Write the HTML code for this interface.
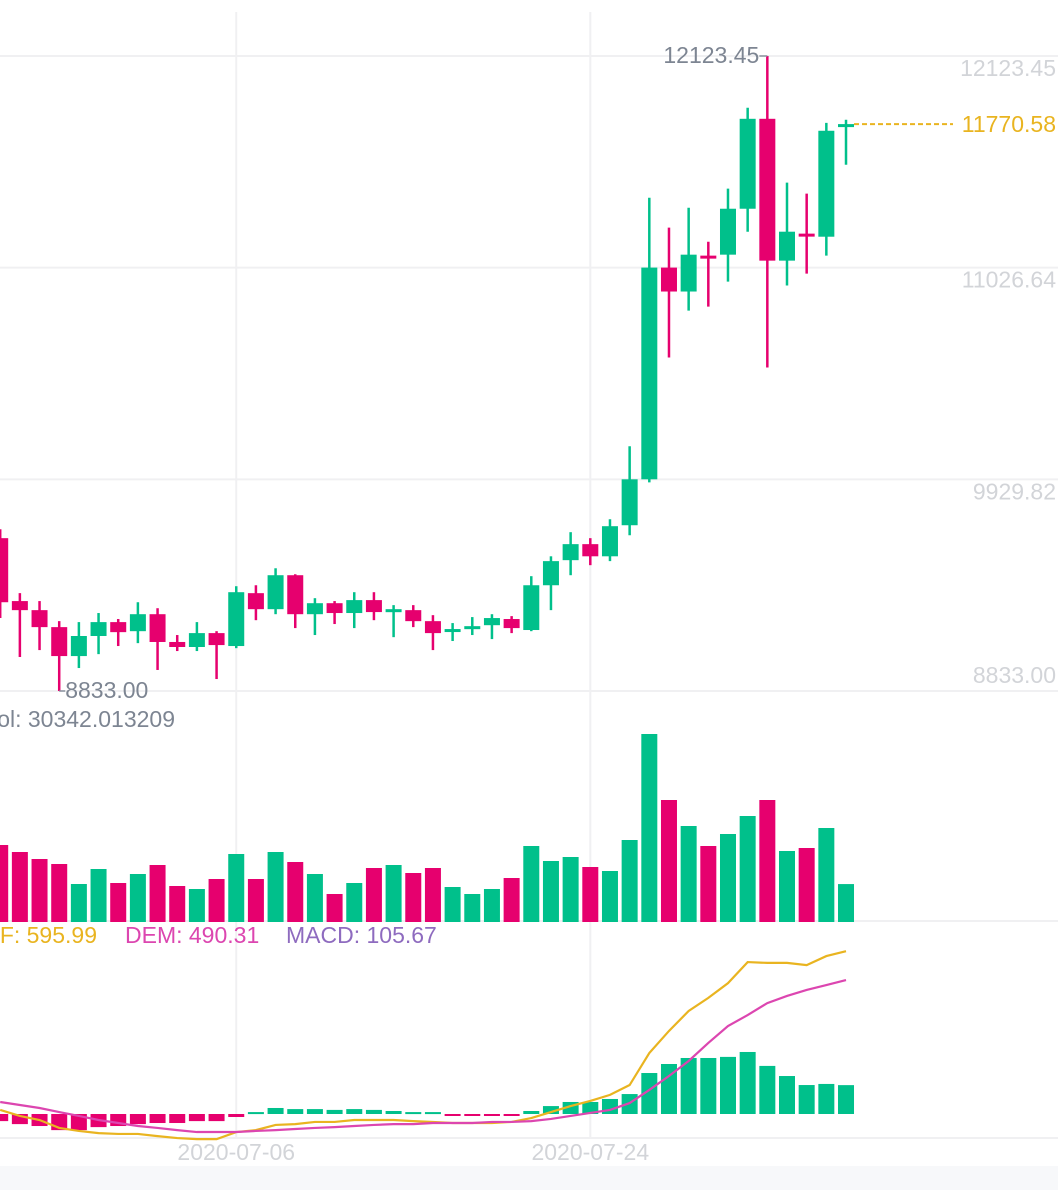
<!DOCTYPE html>
<html><head><meta charset="utf-8"><style>
html,body{margin:0;padding:0;background:#fff;width:1058px;height:1190px;overflow:hidden}
svg{display:block;font-family:"Liberation Sans",Roboto,sans-serif}
</style></head><body>
<svg id="chart" width="1058" height="1190" viewBox="0 0 1058 1190" xmlns="http://www.w3.org/2000/svg">
<rect x="0" y="1166" width="1058" height="24" fill="#f7f8fa"/>
<g id="grid"></g>
<g id="vol"></g>
<g id="macdh"></g>
<g id="lines"></g>
<g id="candles"></g>
<g id="labels"></g>
</svg>
<script>
const opens=[9625,9299,9252,9164,9014,9118,9190,9143,9231,9087,9061,9133,9066,9340,9257,9433,9231,9288,9237,9304,9247,9252,9195,9143,9159,9174,9206,9149,9381,9511,9594,9531,9692,9930,11027,10903,11089,11094,11332,11798,11063,11203,11187,11761];
const highs=[9671,9340,9299,9195,9190,9237,9206,9293,9262,9123,9190,9143,9376,9381,9469,9438,9314,9299,9345,9345,9278,9278,9226,9185,9216,9231,9221,9428,9531,9656,9625,9723,10101,11389,11234,11337,11161,11436,11855,12123.45,11467,11410,11777,11793];
const lows=[9211,9009,9045,8833,8952,9024,9066,9081,8942,9040,9040,8895,9055,9200,9231,9159,9123,9180,9159,9200,9112,9164,9045,9092,9123,9102,9133,9143,9252,9433,9485,9506,9640,9914,10561,10804,10825,10954,11213,10509,10934,10996,11089,11560];
const closes=[9293,9252,9164,9014,9118,9190,9138,9231,9087,9061,9133,9071,9345,9257,9433,9231,9288,9237,9304,9242,9257,9195,9133,9154,9169,9211,9159,9381,9506,9594,9531,9687,9930,11027,10903,11094,11084,11332,11798,11063,11213,11192,11736,11770.58];
const volumes=[61600,56000,50400,46400,30400,42400,31200,38400,45600,28800,26400,34400,54400,34400,56000,48000,38400,22400,31200,43200,45600,39200,43200,28000,22400,26400,35200,60800,48800,52000,44000,40800,65600,150400,97600,76800,60800,70400,84800,97600,56800,59200,75200,30342.013209];
const dif=[15,-7,-22,-51,-62,-70,-73,-73,-81,-88,-92,-92,-66,-59,-40,-37,-29,-29,-22,-22,-22,-26,-29,-33,-33,-33,-29,-15,7,29,48,70,106,223,304,377,425,479,556,553,553,545,578,595.99];
const dem=[44,33,22,7,-7,-22,-33,-44,-51,-59,-66,-66,-66,-62,-59,-55,-51,-48,-44,-40,-37,-37,-33,-33,-33,-29,-29,-26,-18,-7,4,15,40,88,139,194,260,322,362,406,432,454,472,490.31];
const hist=[-26,-37,-44,-59,-59,-48,-44,-37,-33,-33,-26,-26,-11,7,22,18,18,15,18,15,11,7,7,-7,-7,-7,-7,11,29,44,44,55,73,150,183,205,205,209,227,176,139,106,110,105.67];
const priceTicks=[12123.45,11026.64,9929.82,8833.00];
const dateLabels=["2020-07-06","2020-07-24"];
const dateIdx=[12,30];

const NS="http://www.w3.org/2000/svg";
const GREEN="#00c08b",RED="#e6006e";
const FS=23;
function mk(tag,attrs,parent,text){const e=document.createElementNS(NS,tag);for(const k in attrs)e.setAttribute(k,attrs[k]);if(text!==undefined)e.textContent=text;parent.appendChild(e);return e;}
const pMin=8833,pMax=12123.45,yTop=56,yBot=691;
function xAt(i){return 0.2+19.67*i;}
function yP(p){return yBot-(p-pMin)/(pMax-pMin)*(yBot-yTop);}
function yV(v){return 922-v/800;}
function yM(m){return 1114-m/3.66;}

const grid=document.getElementById('grid');
priceTicks.forEach(p=>{const l=mk('line',{x1:0,x2:1058,y1:yP(p),y2:yP(p),stroke:'#f0f0f2','stroke-width':2},grid);

});
[921,1138].forEach(y=>{const l=mk('line',{x1:0,x2:1058,y1:y,y2:y,stroke:'#f0f0f2','stroke-width':2},grid);

});
dateIdx.forEach(i=>{const l=mk('line',{x1:xAt(i),x2:xAt(i),y1:12,y2:1138,stroke:'#f0f0f2','stroke-width':2},grid);

});

const vol=document.getElementById('vol');
volumes.forEach((v,i)=>{const up=closes[i]>=opens[i];
const r=mk('rect',{x:xAt(i)-8,y:yV(v),width:16,height:922-yV(v),fill:up?GREEN:RED},vol);

});

const mh=document.getElementById('macdh');
hist.forEach((h,i)=>{const y0=yM(0),y1=yM(h);
const r=mk('rect',{x:xAt(i)-8,y:Math.min(y0,y1),width:16,height:Math.max(2,Math.abs(y1-y0)),fill:h>=0?GREEN:RED},mh);

});

const lines=document.getElementById('lines');
const difL=mk('polyline',{points:dif.map((d,i)=>xAt(i)+','+yM(d)).join(' '),fill:'none',stroke:'#e9b420','stroke-width':2.2},lines);


const demL=mk('polyline',{points:dem.map((d,i)=>xAt(i)+','+yM(d)).join(' '),fill:'none',stroke:'#dc46b0','stroke-width':2.2},lines);



const cg=document.getElementById('candles');
opens.forEach((o,i)=>{const c=closes[i],up=c>=o,col=up?GREEN:RED,x=xAt(i);
const w=mk('line',{x1:x,x2:x,y1:yP(highs[i]),y2:yP(lows[i]),stroke:col,'stroke-width':2.5},cg);


const t=Math.min(yP(o),yP(c)),h=Math.max(3,Math.abs(yP(o)-yP(c)));
const b=mk('rect',{x:x-8,y:t,width:16,height:h,fill:col},cg);

});

const lg=document.getElementById('labels');
priceTicks.forEach((p,k)=>{const y=k===3?yP(p)-8:yP(p)+20;
const t=mk('text',{x:1056,y:y,'text-anchor':'end','font-size':FS,fill:'#d2d4d8'},lg,p.toFixed(2));

});
dateLabels.forEach((d,k)=>{const t=mk('text',{x:xAt(dateIdx[k]),y:1160,'text-anchor':'middle','font-size':FS,fill:'#d2d4d8'},lg,d);

});
let mi=highs.indexOf(Math.max(...highs));
const mxl=mk('line',{x1:xAt(mi)-8,x2:xAt(mi),y1:yP(highs[mi]),y2:yP(highs[mi]),stroke:'#8a939f','stroke-width':1.5},lg);


const mxt=mk('text',{x:xAt(mi)-8,y:yP(highs[mi])+7,'text-anchor':'end','font-size':FS,fill:'#7d8592'},lg,highs[mi].toFixed(2));


let ni=lows.indexOf(Math.min(...lows));
const mnl=mk('line',{x1:xAt(ni),x2:xAt(ni)+6,y1:yP(lows[ni]),y2:yP(lows[ni]),stroke:'#8a939f','stroke-width':1.5},lg);


const mnt=mk('text',{x:xAt(ni)+6,y:yP(lows[ni])+7,'font-size':FS,fill:'#7d8592'},lg,lows[ni].toFixed(2));


const last=closes[closes.length-1];
const ll=mk('line',{x1:xAt(43)+8,x2:953,y1:yP(last),y2:yP(last),stroke:'#e9b420','stroke-width':2,'stroke-dasharray':'5,3'},lg);


const lt=mk('text',{x:1056,y:yP(last)+8,'text-anchor':'end','font-size':FS,fill:'#e9b420'},lg,last.toFixed(2));


const vt=mk('text',{x:175,y:727,'text-anchor':'end','font-size':FS,fill:'#7d8592'},lg,'Vol: '+volumes[43].toFixed(6));


const d1=mk('text',{x:97,y:943,'text-anchor':'end','font-size':FS,fill:'#e9b420'},lg,'DIF: '+dif[43].toFixed(2));


const d2=mk('text',{x:125,y:943,'font-size':FS,fill:'#dc46b0'},lg,'DEM: '+dem[43].toFixed(2));


const d3=mk('text',{x:286,y:943,'font-size':FS,fill:'#8e6bbf'},lg,'MACD: '+hist[43].toFixed(2));


</script>
</body></html>
